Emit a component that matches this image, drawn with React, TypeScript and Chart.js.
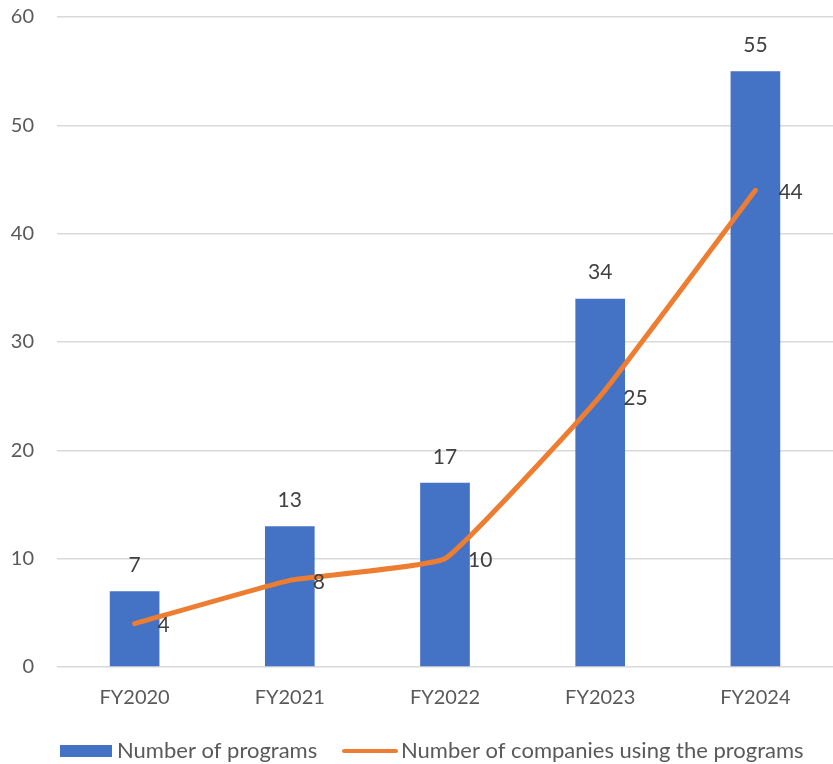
import React, { useEffect, useRef } from "react";
import { Chart, registerables } from "chart.js";

Chart.register(...registerables);

const categories = ["FY2020", "FY2021", "FY2022", "FY2023", "FY2024"];
const programs = [7, 13, 17, 34, 55];
const companies = [4, 8, 10, 25, 44];
const seriesNames = ["Number of programs", "Number of companies using the programs"];
const yMin = 0;
const yMax = 60;
const yStep = 10;

const BLUE = "#4472C4";
const ORANGE = "#ED7D31";
const FONT = "Lato, 'Open Sans', sans-serif";

const labelPlugin = {
  id: "labelsAndLegend",
  afterDatasetsDraw(chart: any) {
    const ctx = chart.ctx;
    ctx.save();
    ctx.font = `21px ${FONT}`;
    ctx.fillStyle = "#404040";
    ctx.textBaseline = "middle";
    chart.data.datasets.forEach((ds: any, i: number) => {
      const meta = chart.getDatasetMeta(i);
      meta.data.forEach((el: any, j: number) => {
        const v = ds.data[j];
        if (meta.type === "bar") {
          ctx.textAlign = "center";
          ctx.fillText(String(v), el.x, el.y - 26);
        } else {
          ctx.textAlign = "left";
          ctx.fillText(String(v), el.x + 23, el.y + 2);
        }
      });
    });
    ctx.restore();
  },
  afterDraw(chart: any) {
    const ctx = chart.ctx;
    ctx.save();
    ctx.font = `22px ${FONT}`;
    ctx.textBaseline = "middle";
    ctx.textAlign = "left";
    const y = 751;
    ctx.fillStyle = BLUE;
    ctx.fillRect(60, 745, 52, 12);
    ctx.fillStyle = "#595959";
    ctx.fillText(chart.data.datasets[0].label, 117, y);
    ctx.strokeStyle = ORANGE;
    ctx.lineWidth = 4;
    ctx.lineCap = "round";
    ctx.beginPath();
    ctx.moveTo(344, y);
    ctx.lineTo(396, y);
    ctx.stroke();
    ctx.fillText(chart.data.datasets[1].label, 401, y);
    ctx.restore();
  },
};

export default function App() {
  const ref = useRef<HTMLCanvasElement | null>(null);
  useEffect(() => {
    if (!ref.current) return;
    const chart = new Chart(ref.current, {
      type: "bar",
      data: {
        labels: categories,
        datasets: [
          {
            type: "bar",
            label: seriesNames[0],
            data: programs,
            backgroundColor: BLUE,
            barPercentage: 0.32,
            categoryPercentage: 1,
            order: 1,
          },
          {
            type: "line",
            label: seriesNames[1],
            data: companies,
            borderColor: ORANGE,
            backgroundColor: ORANGE,
            borderWidth: 5,
            pointRadius: 0,
            tension: 0.1,
            borderCapStyle: "round",
            borderJoinStyle: "round",
            order: 0,
          } as any,
        ],
      },
      options: {
        responsive: false,
        animation: false,
        layout: { padding: { top: 17, right: 0, left: 0, bottom: 0 } },
        plugins: {
          legend: { display: false },
          tooltip: { enabled: false },
        },
        scales: {
          x: {
            grid: { display: false },
            border: { display: false },
            ticks: {
              color: "#595959",
              font: { family: FONT, size: 20 },
              padding: 11,
              maxRotation: 0,
            },
            afterFit: (s: any) => {
              s.height = 97;
              s.paddingLeft = 0;
              s.paddingRight = 0;
            },
          },
          y: {
            min: yMin,
            max: yMax,
            grid: { color: "#D9D9D9", lineWidth: 1.5, drawTicks: false },
            border: { display: false },
            ticks: {
              stepSize: yStep,
              color: "#595959",
              font: { family: FONT, size: 20 },
              padding: 23,
            },
            afterFit: (s: any) => {
              s.width = 57;
              s.paddingTop = 0;
              s.paddingBottom = 0;
            },
          },
        },
      },
      plugins: [labelPlugin],
    });
    return () => chart.destroy();
  }, []);
  return (
    <div style={{ position: "absolute", left: 0, top: 0, width: 833, height: 764 }}>
      <canvas ref={ref} width={833} height={764} style={{ display: "block" }} />
    </div>
  );
}
